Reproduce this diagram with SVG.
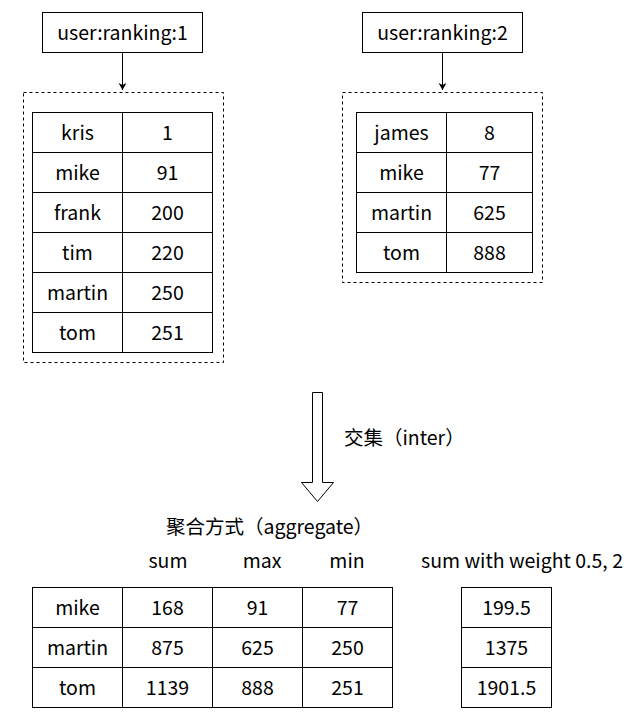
<svg xmlns="http://www.w3.org/2000/svg" width="633" height="719" viewBox="0 0 633 719">
<defs>
<style>
text{font-family:"Noto Sans CJK SC","Noto Sans",sans-serif;font-size:19.5px;fill:#000;text-anchor:middle;dominant-baseline:central}
.b{fill:#fff;stroke:#000;stroke-width:1}
.d{fill:none;stroke:#000;stroke-width:1;stroke-dasharray:3 3}
.l{stroke:#000;stroke-width:1;fill:none}
.s{text-anchor:start}
</style>
<marker id="ah" markerWidth="10" markerHeight="10" refX="8" refY="5" orient="auto" markerUnits="userSpaceOnUse">
<path d="M1,1 L8,5 L1,9 L3,5 Z" fill="#000"/>
</marker>
</defs>
<rect width="633" height="719" fill="#fff"/>
<g id="key1">
<rect class="b" x="42.5" y="12.5" width="160" height="40"/>
<text x="122.5" y="31">user:ranking:1</text>
</g>
<g id="key2">
<rect class="b" x="362.5" y="12.5" width="160" height="40"/>
<text x="442.5" y="31">user:ranking:2</text>
</g>
<g id="connectors">
<line class="l" x1="122.5" y1="52.5" x2="122.5" y2="90" marker-end="url(#ah)"/>
<line class="l" x1="442.5" y1="52.5" x2="442.5" y2="90" marker-end="url(#ah)"/>
<path class="b" d="M312.5,392.5 H322.5 V482.5 H333.5 L317.5,501.5 L301.5,482.5 H312.5 Z"/>
</g>
<g id="set1">
<rect class="d" x="23.5" y="92.5" width="200" height="270"/>
<rect class="b" x="32.5" y="112.5" width="180" height="240"/>
<path class="l" d="M122.5,112.5 V352.5 M32.5,152.5 H212.5 M32.5,192.5 H212.5 M32.5,232.5 H212.5 M32.5,272.5 H212.5 M32.5,312.5 H212.5"/>
<text x="77.5" y="131">kris</text><text x="167.5" y="131">1</text>
<text x="77.5" y="171">mike</text><text x="167.5" y="171">91</text>
<text x="77.5" y="211">frank</text><text x="167.5" y="211">200</text>
<text x="77.5" y="251">tim</text><text x="167.5" y="251">220</text>
<text x="77.5" y="291">martin</text><text x="167.5" y="291">250</text>
<text x="77.5" y="331">tom</text><text x="167.5" y="331">251</text>
</g>
<g id="set2">
<rect class="d" x="342.5" y="92.5" width="200" height="190"/>
<rect class="b" x="356.5" y="112.5" width="176" height="160"/>
<path class="l" d="M446.5,112.5 V272.5 M356.5,152.5 H532.5 M356.5,192.5 H532.5 M356.5,232.5 H532.5"/>
<text x="401.5" y="131">james</text><text x="489.5" y="131">8</text>
<text x="401.5" y="171">mike</text><text x="489.5" y="171">77</text>
<text x="401.5" y="211">martin</text><text x="489.5" y="211">625</text>
<text x="401.5" y="251">tom</text><text x="489.5" y="251">888</text>
</g>
<g id="inter-label">
<text class="s" x="344" y="436.5">交集（inter）</text>
</g>
<g id="aggregate">
<text class="s" x="166" y="525.5">聚合方式（aggregate）</text>
<text x="168" y="559.5">sum</text>
<text x="262" y="559.5">max</text>
<text x="347" y="559.5">min</text>
<rect class="b" x="32.5" y="587.5" width="360" height="120"/>
<path class="l" d="M122.5,587.5 V707.5 M212.5,587.5 V707.5 M302.5,587.5 V707.5 M32.5,627.5 H392.5 M32.5,667.5 H392.5"/>
<text x="77.5" y="606">mike</text><text x="167.5" y="606">168</text><text x="257.5" y="606">91</text><text x="347.5" y="606">77</text>
<text x="77.5" y="646">martin</text><text x="167.5" y="646">875</text><text x="257.5" y="646">625</text><text x="347.5" y="646">250</text>
<text x="77.5" y="686">tom</text><text x="167.5" y="686">1139</text><text x="257.5" y="686">888</text><text x="347.5" y="686">251</text>
</g>
<g id="weighted">
<text x="522" y="559.5">sum with weight 0.5, 2</text>
<rect class="b" x="461.5" y="587.5" width="90" height="120"/>
<path class="l" d="M461.5,627.5 H551.5 M461.5,667.5 H551.5"/>
<text x="506.5" y="606">199.5</text>
<text x="506.5" y="646">1375</text>
<text x="506.5" y="686">1901.5</text>
</g>
</svg>
